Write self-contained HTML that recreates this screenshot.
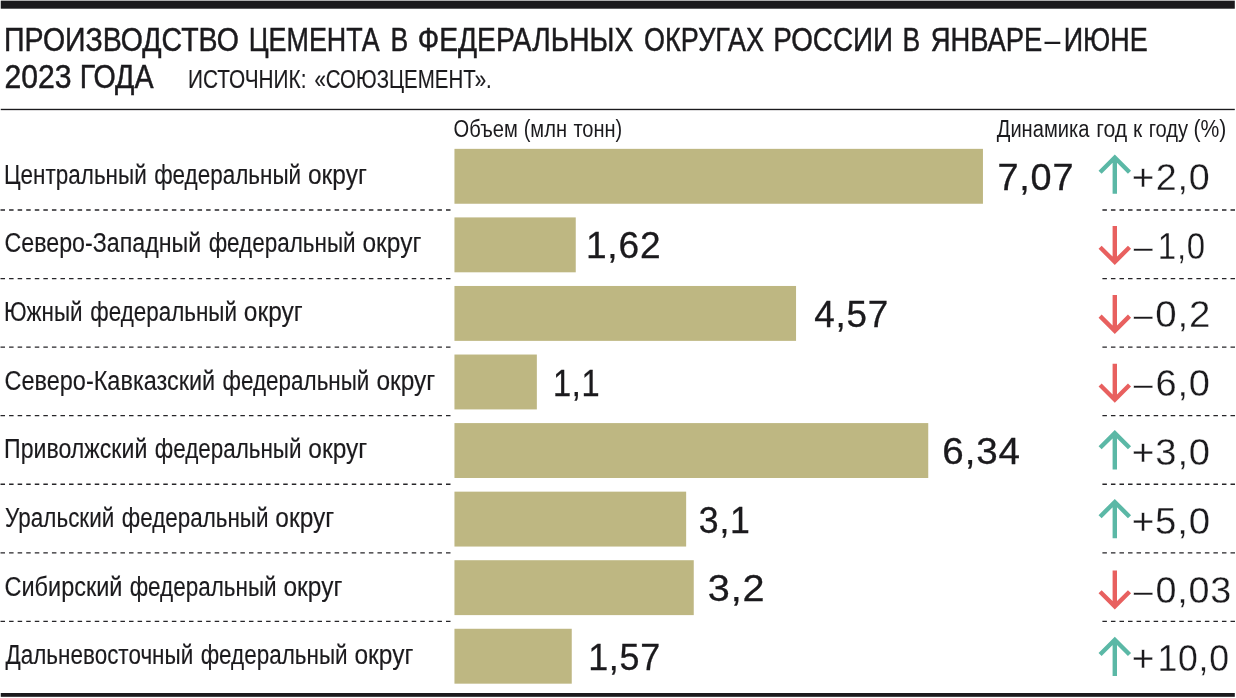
<!DOCTYPE html>
<html lang="ru"><head><meta charset="utf-8"><title>Производство цемента в федеральных округах России</title>
<style>
html,body{margin:0;padding:0;background:#fff}
svg{display:block}
text{font-family:"Liberation Sans",sans-serif;fill:#1b1a1d}
.t{stroke:#1b1a1d;stroke-width:.5px}
.s{stroke:#1b1a1d;stroke-width:.15px}
.l{stroke:#1b1a1d;stroke-width:.15px}
.n{letter-spacing:.8px}
.v{stroke:#1b1a1d;stroke-width:.3px}
.d{stroke:#fff;stroke-width:.3px}
</style></head><body>
<svg width="1236" height="698" viewBox="0 0 1236 698">
<rect width="1236" height="698" fill="#fff"/>
<rect x="0.75" y="0.65" width="1234.05" height="8.05" fill="#1b1a1d"/>
<rect x="0.75" y="108.8" width="1234.05" height="1.35" fill="#1b1a1d"/>
<rect x="0.75" y="693" width="1234.05" height="3.8" fill="#1b1a1d"/>
<text class="t" y="50.90" font-size="34"><tspan x="4.12" textLength="234.7" lengthAdjust="spacingAndGlyphs">ПРОИЗВОДСТВО</tspan> <tspan x="248.67" textLength="131.07" lengthAdjust="spacingAndGlyphs">ЦЕМЕНТА</tspan> <tspan x="390.51" textLength="17.7" lengthAdjust="spacingAndGlyphs">В</tspan> <tspan x="417.84" textLength="215.41" lengthAdjust="spacingAndGlyphs">ФЕДЕРАЛЬНЫХ</tspan> <tspan x="644.04" textLength="120.02" lengthAdjust="spacingAndGlyphs">ОКРУГАХ</tspan> <tspan x="773.23" textLength="119.84" lengthAdjust="spacingAndGlyphs">РОССИИ</tspan> <tspan x="902.38" textLength="17.65" lengthAdjust="spacingAndGlyphs">В</tspan> <tspan x="930.78" textLength="111.58" lengthAdjust="spacingAndGlyphs">ЯНВАРЕ</tspan><tspan x="1044.39" textLength="15.86" lengthAdjust="spacingAndGlyphs" stroke-width="0">–</tspan><tspan x="1063.73" textLength="84.01" lengthAdjust="spacingAndGlyphs">ИЮНЕ</tspan></text>
<text class="t" y="87.60" font-size="34"><tspan x="4.4" textLength="67.09" lengthAdjust="spacingAndGlyphs">2023</tspan> <tspan x="79.64" textLength="73.91" lengthAdjust="spacingAndGlyphs">ГОДА</tspan></text>
<text class="s" y="87.70" font-size="25.5"><tspan x="187.96" textLength="118.5" lengthAdjust="spacingAndGlyphs">ИСТОЧНИК:</tspan> <tspan x="314.44" textLength="177.34" lengthAdjust="spacingAndGlyphs">«СОЮЗЦЕМЕНТ».</tspan></text>
<text class="h" y="136.50" font-size="23.3"><tspan x="453.61" textLength="64.14" lengthAdjust="spacingAndGlyphs">Объем</tspan> <tspan x="523.67" textLength="43.32" lengthAdjust="spacingAndGlyphs">(млн</tspan> <tspan x="573.43" textLength="48.86" lengthAdjust="spacingAndGlyphs">тонн)</tspan></text>
<text class="h" y="136.50" font-size="23.3"><tspan x="996.75" textLength="92.7" lengthAdjust="spacingAndGlyphs">Динамика</tspan> <tspan x="1096.22" textLength="31.06" lengthAdjust="spacingAndGlyphs">год</tspan> <tspan x="1132.99" textLength="9.18" lengthAdjust="spacingAndGlyphs">к</tspan> <tspan x="1148.7" textLength="39.41" lengthAdjust="spacingAndGlyphs">году</tspan> <tspan x="1193.5" textLength="32.87" lengthAdjust="spacingAndGlyphs">(%)</tspan></text>
<rect x="454.45" y="148.85" width="528.5" height="54.9" fill="#beb782"/>
<text class="l" y="183.50" font-size="27"><tspan x="4.01" textLength="142.73" lengthAdjust="spacingAndGlyphs">Центральный</tspan> <tspan x="154.13" textLength="147.04" lengthAdjust="spacingAndGlyphs">федеральный</tspan> <tspan x="307.97" textLength="58.85" lengthAdjust="spacingAndGlyphs">округ</tspan></text>
<text class="n v" y="189.60" font-size="37"><tspan x="997.44" textLength="76.91" lengthAdjust="spacingAndGlyphs">7,07</tspan></text>
<text class="n d" y="189.70" font-size="37"><tspan x="1131.75" textLength="23.48" lengthAdjust="spacingAndGlyphs">+</tspan><tspan x="1155.82" textLength="54.84" lengthAdjust="spacingAndGlyphs">2,0</tspan></text>
<path d="M1114.8 193.80V157.50M1100.1 172.20L1114.8 157.50L1129.5 172.20" fill="none" stroke="#5bb8a6" stroke-width="4.4" stroke-miterlimit="10"/>
<path d="M450.5 210.00H0.5" stroke="#262528" stroke-width="1.3" stroke-dasharray="4.5 4.067" fill="none"/>
<path d="M1102.4 210.00H1235" stroke="#262528" stroke-width="1.3" stroke-dasharray="4.5 4.04" fill="none"/>
<rect x="454.45" y="217.41" width="121.3" height="54.9" fill="#beb782"/>
<text class="l" y="252.20" font-size="27"><tspan x="4.54" textLength="196.68" lengthAdjust="spacingAndGlyphs">Северо-Западный</tspan> <tspan x="208.63" textLength="147.04" lengthAdjust="spacingAndGlyphs">федеральный</tspan> <tspan x="362.47" textLength="58.85" lengthAdjust="spacingAndGlyphs">округ</tspan></text>
<text class="n v" y="258.24" font-size="37"><tspan x="585.95" textLength="75.42" lengthAdjust="spacingAndGlyphs">1,62</tspan></text>
<text class="n d" y="258.50" font-size="37"><tspan x="1133.69" textLength="19.72" lengthAdjust="spacingAndGlyphs">–</tspan><tspan x="1157.84" textLength="48.02" lengthAdjust="spacingAndGlyphs">1,0</tspan></text>
<path d="M1114.8 226.00V261.90M1100.1 247.20L1114.8 261.90L1129.5 247.20" fill="none" stroke="#e8605f" stroke-width="4.4" stroke-miterlimit="10"/>
<path d="M450.5 278.56H0.5" stroke="#262528" stroke-width="1.3" stroke-dasharray="4.5 4.067" fill="none"/>
<path d="M1102.4 278.56H1235" stroke="#262528" stroke-width="1.3" stroke-dasharray="4.5 4.04" fill="none"/>
<rect x="454.45" y="285.97" width="341.6" height="54.9" fill="#beb782"/>
<text class="l" y="320.90" font-size="27"><tspan x="3.97" textLength="78.64" lengthAdjust="spacingAndGlyphs">Южный</tspan> <tspan x="90.24" textLength="146.79" lengthAdjust="spacingAndGlyphs">федеральный</tspan> <tspan x="243.83" textLength="58.84" lengthAdjust="spacingAndGlyphs">округ</tspan></text>
<text class="n v" y="326.88" font-size="37"><tspan x="814.21" textLength="74.9" lengthAdjust="spacingAndGlyphs">4,57</tspan></text>
<text class="n d" y="327.30" font-size="37"><tspan x="1133.69" textLength="19.72" lengthAdjust="spacingAndGlyphs">–</tspan><tspan x="1155.36" textLength="55.94" lengthAdjust="spacingAndGlyphs">0,2</tspan></text>
<path d="M1114.8 294.90V330.80M1100.1 316.10L1114.8 330.80L1129.5 316.10" fill="none" stroke="#e8605f" stroke-width="4.4" stroke-miterlimit="10"/>
<path d="M450.5 347.12H0.5" stroke="#262528" stroke-width="1.3" stroke-dasharray="4.5 4.067" fill="none"/>
<path d="M1102.4 347.12H1235" stroke="#262528" stroke-width="1.3" stroke-dasharray="4.5 4.04" fill="none"/>
<rect x="454.45" y="354.53" width="82.4" height="54.9" fill="#beb782"/>
<text class="l" y="389.60" font-size="27"><tspan x="4.54" textLength="210.63" lengthAdjust="spacingAndGlyphs">Северо-Кавказский</tspan> <tspan x="222.59" textLength="146.79" lengthAdjust="spacingAndGlyphs">федеральный</tspan> <tspan x="376.42" textLength="58.85" lengthAdjust="spacingAndGlyphs">округ</tspan></text>
<text class="n v" y="395.52" font-size="37"><tspan x="552.97" textLength="47.44" lengthAdjust="spacingAndGlyphs">1,1</tspan></text>
<text class="n d" y="396.10" font-size="37"><tspan x="1133.69" textLength="19.72" lengthAdjust="spacingAndGlyphs">–</tspan><tspan x="1155.43" textLength="55.33" lengthAdjust="spacingAndGlyphs">6,0</tspan></text>
<path d="M1114.8 363.80V399.70M1100.1 385.00L1114.8 399.70L1129.5 385.00" fill="none" stroke="#e8605f" stroke-width="4.4" stroke-miterlimit="10"/>
<path d="M450.5 415.68H0.5" stroke="#262528" stroke-width="1.3" stroke-dasharray="4.5 4.067" fill="none"/>
<path d="M1102.4 415.68H1235" stroke="#262528" stroke-width="1.3" stroke-dasharray="4.5 4.04" fill="none"/>
<rect x="454.45" y="423.09" width="473.8" height="54.9" fill="#beb782"/>
<text class="l" y="458.30" font-size="27"><tspan x="4.01" textLength="143.33" lengthAdjust="spacingAndGlyphs">Приволжский</tspan> <tspan x="154.74" textLength="146.79" lengthAdjust="spacingAndGlyphs">федеральный</tspan> <tspan x="308.33" textLength="58.84" lengthAdjust="spacingAndGlyphs">округ</tspan></text>
<text class="n v" y="464.16" font-size="37"><tspan x="942.36" textLength="78.47" lengthAdjust="spacingAndGlyphs">6,34</tspan></text>
<text class="n d" y="464.90" font-size="37"><tspan x="1131.75" textLength="23.48" lengthAdjust="spacingAndGlyphs">+</tspan><tspan x="1155.38" textLength="55.54" lengthAdjust="spacingAndGlyphs">3,0</tspan></text>
<path d="M1114.8 469.40V433.10M1100.1 447.80L1114.8 433.10L1129.5 447.80" fill="none" stroke="#5bb8a6" stroke-width="4.4" stroke-miterlimit="10"/>
<path d="M450.5 484.24H0.5" stroke="#262528" stroke-width="1.3" stroke-dasharray="4.5 4.067" fill="none"/>
<path d="M1102.4 484.24H1235" stroke="#262528" stroke-width="1.3" stroke-dasharray="4.5 4.04" fill="none"/>
<rect x="454.45" y="491.65" width="231.7" height="54.9" fill="#beb782"/>
<text class="l" y="527.00" font-size="27"><tspan x="5.04" textLength="109.29" lengthAdjust="spacingAndGlyphs">Уральский</tspan> <tspan x="121.74" textLength="146.79" lengthAdjust="spacingAndGlyphs">федеральный</tspan> <tspan x="275.33" textLength="58.84" lengthAdjust="spacingAndGlyphs">округ</tspan></text>
<text class="n v" y="532.80" font-size="37"><tspan x="698.81" textLength="51.92" lengthAdjust="spacingAndGlyphs">3,1</tspan></text>
<text class="n d" y="533.70" font-size="37"><tspan x="1131.75" textLength="23.48" lengthAdjust="spacingAndGlyphs">+</tspan><tspan x="1155.1" textLength="55.84" lengthAdjust="spacingAndGlyphs">5,0</tspan></text>
<path d="M1114.8 538.30V502.00M1100.1 516.70L1114.8 502.00L1129.5 516.70" fill="none" stroke="#5bb8a6" stroke-width="4.4" stroke-miterlimit="10"/>
<path d="M450.5 552.80H0.5" stroke="#262528" stroke-width="1.3" stroke-dasharray="4.5 4.067" fill="none"/>
<path d="M1102.4 552.80H1235" stroke="#262528" stroke-width="1.3" stroke-dasharray="4.5 4.04" fill="none"/>
<rect x="454.45" y="560.21" width="239.3" height="54.9" fill="#beb782"/>
<text class="l" y="595.70" font-size="27"><tspan x="4.52" textLength="117.96" lengthAdjust="spacingAndGlyphs">Сибирский</tspan> <tspan x="129.63" textLength="147.04" lengthAdjust="spacingAndGlyphs">федеральный</tspan> <tspan x="283.47" textLength="58.85" lengthAdjust="spacingAndGlyphs">округ</tspan></text>
<text class="n v" y="601.44" font-size="37"><tspan x="707.79" textLength="57.69" lengthAdjust="spacingAndGlyphs">3,2</tspan></text>
<text class="n d" y="602.50" font-size="37"><tspan x="1133.69" textLength="19.72" lengthAdjust="spacingAndGlyphs">–</tspan><tspan x="1155.41" textLength="76.7" lengthAdjust="spacingAndGlyphs">0,03</tspan></text>
<path d="M1114.8 570.50V606.40M1100.1 591.70L1114.8 606.40L1129.5 591.70" fill="none" stroke="#e8605f" stroke-width="4.4" stroke-miterlimit="10"/>
<path d="M450.5 621.36H0.5" stroke="#262528" stroke-width="1.3" stroke-dasharray="4.5 4.067" fill="none"/>
<path d="M1102.4 621.36H1235" stroke="#262528" stroke-width="1.3" stroke-dasharray="4.5 4.04" fill="none"/>
<rect x="454.45" y="628.77" width="117.3" height="54.9" fill="#beb782"/>
<text class="l" y="664.40" font-size="27"><tspan x="5.55" textLength="187.66" lengthAdjust="spacingAndGlyphs">Дальневосточный</tspan> <tspan x="200.63" textLength="147.04" lengthAdjust="spacingAndGlyphs">федеральный</tspan> <tspan x="354.47" textLength="58.85" lengthAdjust="spacingAndGlyphs">округ</tspan></text>
<text class="n v" y="670.08" font-size="37"><tspan x="588.13" textLength="72.95" lengthAdjust="spacingAndGlyphs">1,57</tspan></text>
<text class="n d" y="671.30" font-size="37"><tspan x="1131.75" textLength="23.48" lengthAdjust="spacingAndGlyphs">+</tspan><tspan x="1157.39" textLength="72.38" lengthAdjust="spacingAndGlyphs">10,0</tspan></text>
<path d="M1114.8 676.10V639.80M1100.1 654.50L1114.8 639.80L1129.5 654.50" fill="none" stroke="#5bb8a6" stroke-width="4.4" stroke-miterlimit="10"/>
</svg></body></html>
